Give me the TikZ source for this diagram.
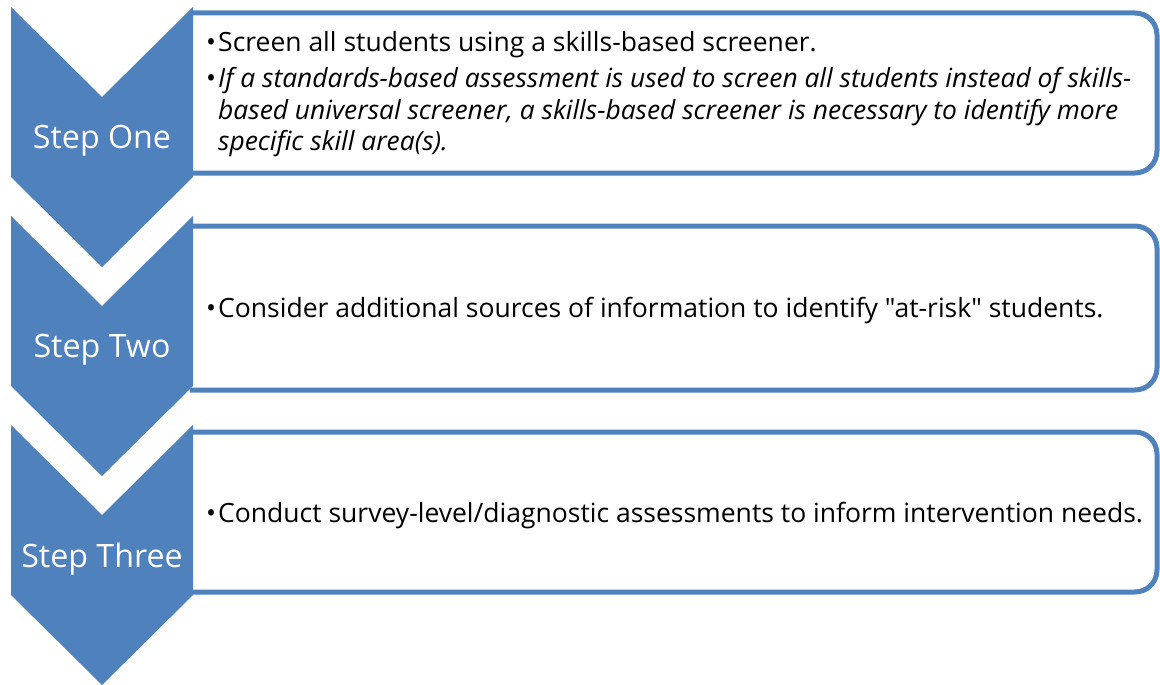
\documentclass[tikz,border=0pt]{standalone}
\usepackage{fontspec}
\setmainfont{Open Sans}[Ligatures=TeXOff]
\definecolor{stepblue}{HTML}{4F81BD}
\begin{document}
\begin{tikzpicture}[x=1pt,y=-1pt,
  chev/.style={fill=stepblue,draw=none},
  listbox/.style={draw=stepblue,line width=5pt,fill=white,rounded corners=22pt},
  steplabel/.style={text=white,font=\fontsize{32.2}{38}\selectfont,inner sep=0pt,anchor=base},
  bul/.style={font=\fontsize{26.5}{31}\selectfont,inner sep=0pt,anchor=base west},
  ibul/.style={font=\fontsize{26.4}{31}\selectfont\itshape,inner sep=0pt,anchor=base west}
]
\useasboundingbox (0,0) rectangle (1160,685);
% boxes
\draw[listbox] (190,13) -- (1157,13) -- (1157,173) -- (190,173);
\draw[listbox] (190,226) -- (1157,226) -- (1157,390) -- (190,390);
\draw[listbox] (190,432) -- (1157,432) -- (1157,592) -- (190,592);
% chevrons
\foreach \t in {7,216,425}{
  \fill[chev] (11,\t) -- (102,\t+90) -- (193,\t) -- (193,\t+170) -- (102,\t+260) -- (11,\t+170) -- cycle;
}
\node[steplabel] (s1) at (102,148) {Step One};
\node[steplabel] (s2) at (102,357) {Step Two};
\node[steplabel] (s3) at (102,567) {Step Three};
% box 1 text
\node[bul] (b1a) at (206,52) {•};
\node[bul] (t1a) at (218,52) {Screen all students using a skills-based screener.};
\node[bul] (b1b) at (206,88) {•};
\node[ibul] (t1b) at (218,88) {If a standards-based assessment is used to screen all students instead of skills-};
\node[ibul] (t1c) at (218,120) {based universal screener, a skills-based screener is necessary to identify more};
\node[ibul] (t1d) at (218,150) {specific skill area(s).};
% box 2 text
\node[bul] (b2) at (206,317) {•};
\node[bul] (t2) at (218,317) {Consider additional sources of information to identify "at-risk" students.};
% box 3 text
\node[bul] (b3) at (206,522) {•};
\node[bul] (t3) at (218,522) {Conduct survey-level/diagnostic assessments to inform intervention needs.};
\end{tikzpicture}
\end{document}
